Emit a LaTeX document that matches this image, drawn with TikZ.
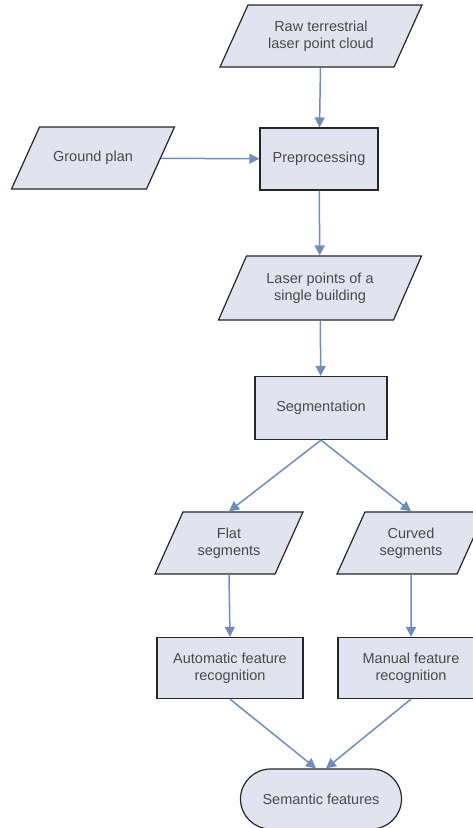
\documentclass[tikz,border=0pt]{standalone}
\usepackage{xcolor}
\usepackage{fontspec}
\setmainfont{Liberation Sans}
\usetikzlibrary{shapes.geometric,arrows.meta}

\definecolor{boxfill}{HTML}{E1E4EF}
\definecolor{flowline}{HTML}{6F8DBB}
\definecolor{labeltext}{HTML}{4A4A4A}

\tikzset{
    box/.style={draw=black!85, line width=1.2pt, fill=boxfill, text=labeltext,
        align=center, font=\fontsize{14.5}{17}\selectfont, inner sep=2pt},
    proc/.style={box, rectangle, minimum height=62pt},
    data/.style={box, trapezium, trapezium left angle=51, trapezium right angle=129,
        trapezium stretches body, minimum height=62pt},
    term/.style={box, rectangle, rounded corners=30pt, minimum height=60pt},
    flow/.style={draw=flowline, line width=1.5pt, -{Triangle[length=10pt,width=10pt]}},
}

\begin{document}
\begin{tikzpicture}[x=1pt, y=-1pt]
            \useasboundingbox (0,0) rectangle (472,828);

            \node[data, minimum width=202pt] (raw) at (321, 36) {Raw terrestrial\\laser point cloud};
            \node[proc, minimum width=118pt] (prep) at (319, 159) {Preprocessing};
            \node[data, minimum width=163pt, trapezium left angle=32, trapezium right angle=148] (ground) at (93, 158) {Ground plan};
            \node[data, minimum width=203pt, minimum height=64pt] (laser) at (320, 288) {Laser points of a\\single building};
            \node[proc, minimum width=132pt, minimum height=63pt] (seg) at (321, 408) {Segmentation};

            \node[data, minimum width=148pt] (flat) at (229, 543) {Flat\\segments};
            \node[data, minimum width=148pt] (curved) at (411, 543) {Curved\\segments};
            \node[proc, minimum width=146pt, minimum height=61pt] (auto) at (230, 668) {Automatic feature\\recognition};
            \node[proc, minimum width=146pt, minimum height=61pt] (manual) at (411, 668) {Manual feature\\recognition};
            \node[term, minimum width=161pt] (sem) at (321, 799) {Semantic features};

            \draw[flow] (raw) -- (prep);
            \draw[flow] (ground) -- (prep);
            \draw[flow] (prep) -- (laser);
            \draw[flow] (laser) -- (seg);
            \draw[flow] (seg.south) -- (flat.north);
            \draw[flow] (seg.south) -- (curved.north);
            \draw[flow] (flat.south) -- (auto.north);
            \draw[flow] (curved.south) -- (manual.north);
            \draw[flow] (auto.south) -- ([xshift=-5pt]sem.north);
            \draw[flow] (manual.south) -- ([xshift=5pt]sem.north);
        \end{tikzpicture}
\end{document}
